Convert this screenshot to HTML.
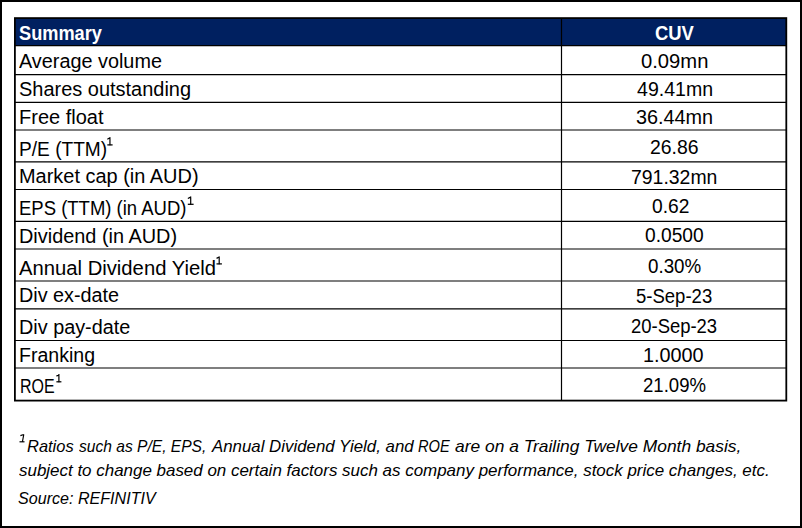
<!DOCTYPE html>
<html><head><meta charset="utf-8"><style>
html,body{margin:0;padding:0;background:#fff;width:802px;height:528px;overflow:hidden}
#w{position:relative;width:802px;height:528px}
#w span{position:absolute;white-space:pre;font-family:"Liberation Sans",sans-serif;transform-origin:0 0}
</style></head><body><div id="w">
<svg width="802" height="528" style="position:absolute;left:0;top:0">
<rect x="15" y="18.5" width="771" height="27" fill="#002060"/>
<line x1="14" x2="787" y1="45.6" y2="45.6" stroke="#000" stroke-width="1.15"/>
<line x1="14" x2="787" y1="74.6" y2="74.6" stroke="#000" stroke-width="1.15"/>
<line x1="14" x2="787" y1="102.4" y2="102.4" stroke="#000" stroke-width="1.15"/>
<line x1="14" x2="787" y1="130.0" y2="130.0" stroke="#000" stroke-width="1.15"/>
<line x1="14" x2="787" y1="161.8" y2="161.8" stroke="#000" stroke-width="1.15"/>
<line x1="14" x2="787" y1="189.5" y2="189.5" stroke="#000" stroke-width="1.15"/>
<line x1="14" x2="787" y1="221.4" y2="221.4" stroke="#000" stroke-width="1.15"/>
<line x1="14" x2="787" y1="249.0" y2="249.0" stroke="#000" stroke-width="1.15"/>
<line x1="14" x2="787" y1="281.0" y2="281.0" stroke="#000" stroke-width="1.15"/>
<line x1="14" x2="787" y1="308.8" y2="308.8" stroke="#000" stroke-width="1.15"/>
<line x1="14" x2="787" y1="340.5" y2="340.5" stroke="#000" stroke-width="1.15"/>
<line x1="14" x2="787" y1="368.0" y2="368.0" stroke="#000" stroke-width="1.15"/>
<line x1="561.5" x2="561.5" y1="18" y2="400.5" stroke="#000" stroke-width="1.2"/>
<rect x="14.9" y="18.1" width="771.4" height="382.5" fill="none" stroke="#000" stroke-width="1.8"/>
<rect x="1" y="1" width="800" height="526" fill="none" stroke="#000" stroke-width="2"/>
</svg>
<span style="left:18.80px;top:49.90px;font-size:20px;line-height:22.340px;font-weight:normal;font-style:normal;color:#000;transform:scaleX(0.9916)">Average volume</span>
<span style="left:640.99px;top:49.50px;font-size:20px;line-height:22.340px;font-weight:normal;font-style:normal;color:#000;transform:scaleX(1.0109)">0.09mn</span>
<span style="left:19.10px;top:78.30px;font-size:20px;line-height:22.340px;font-weight:normal;font-style:normal;color:#000;transform:scaleX(0.9982)">Shares outstanding</span>
<span style="left:636.70px;top:77.90px;font-size:20px;line-height:22.340px;font-weight:normal;font-style:normal;color:#000;transform:scaleX(0.9779)">49.41mn</span>
<span style="left:19.00px;top:106.10px;font-size:20px;line-height:22.340px;font-weight:normal;font-style:normal;color:#000;transform:scaleX(1.0000)">Free float</span>
<span style="left:635.71px;top:105.90px;font-size:20px;line-height:22.340px;font-weight:normal;font-style:normal;color:#000;transform:scaleX(0.9908)">36.44mn</span>
<span style="left:18.89px;top:137.70px;font-size:20px;line-height:22.340px;font-weight:normal;font-style:normal;color:#000;transform:scaleX(0.9562)">P/E (TTM)</span>
<span style="left:649.93px;top:135.70px;font-size:20px;line-height:22.340px;font-weight:normal;font-style:normal;color:#000;transform:scaleX(0.9708)">26.86</span>
<span style="left:18.81px;top:165.40px;font-size:20px;line-height:22.340px;font-weight:normal;font-style:normal;color:#000;transform:scaleX(0.9972)">Market cap (in AUD)</span>
<span style="left:631.33px;top:165.60px;font-size:20px;line-height:22.340px;font-weight:normal;font-style:normal;color:#000;transform:scaleX(0.9713)">791.32mn</span>
<span style="left:18.95px;top:197.30px;font-size:20px;line-height:22.340px;font-weight:normal;font-style:normal;color:#000;transform:scaleX(0.9247)">EPS (TTM) (in AUD)</span>
<span style="left:651.74px;top:194.70px;font-size:20px;line-height:22.340px;font-weight:normal;font-style:normal;color:#000;transform:scaleX(0.9595)">0.62</span>
<span style="left:18.81px;top:224.80px;font-size:20px;line-height:22.340px;font-weight:normal;font-style:normal;color:#000;transform:scaleX(0.9942)">Dividend (in AUD)</span>
<span style="left:644.74px;top:224.20px;font-size:20px;line-height:22.340px;font-weight:normal;font-style:normal;color:#000;transform:scaleX(0.9593)">0.0500</span>
<span style="left:18.80px;top:256.60px;font-size:20px;line-height:22.340px;font-weight:normal;font-style:normal;color:#000;transform:scaleX(1.0119)">Annual Dividend Yield</span>
<span style="left:647.56px;top:254.70px;font-size:20px;line-height:22.340px;font-weight:normal;font-style:normal;color:#000;transform:scaleX(0.9382)">0.30%</span>
<span style="left:19.02px;top:284.40px;font-size:20px;line-height:22.340px;font-weight:normal;font-style:normal;color:#000;transform:scaleX(0.9898)">Div ex-date</span>
<span style="left:635.87px;top:284.80px;font-size:20px;line-height:22.340px;font-weight:normal;font-style:normal;color:#000;transform:scaleX(0.9259)">5-Sep-23</span>
<span style="left:19.02px;top:316.20px;font-size:20px;line-height:22.340px;font-weight:normal;font-style:normal;color:#000;transform:scaleX(0.9909)">Div pay-date</span>
<span style="left:631.08px;top:314.50px;font-size:20px;line-height:22.340px;font-weight:normal;font-style:normal;color:#000;transform:scaleX(0.9217)">20-Sep-23</span>
<span style="left:19.05px;top:343.60px;font-size:20px;line-height:22.340px;font-weight:normal;font-style:normal;color:#000;transform:scaleX(0.9773)">Franking</span>
<span style="left:642.72px;top:343.80px;font-size:20px;line-height:22.340px;font-weight:normal;font-style:normal;color:#000;transform:scaleX(0.9914)">1.0000</span>
<span style="left:19.60px;top:374.70px;font-size:20px;line-height:22.340px;font-weight:normal;font-style:normal;color:#000;transform:scaleX(0.8000)">ROE</span>
<span style="left:642.57px;top:374.00px;font-size:20px;line-height:22.340px;font-weight:normal;font-style:normal;color:#000;transform:scaleX(0.9288)">21.09%</span>
<span style="left:19.09px;top:22.10px;font-size:20px;line-height:22.340px;font-weight:bold;font-style:normal;color:#fff;transform:scaleX(0.9100)">Summary</span>
<span style="left:655.18px;top:21.90px;font-size:20px;line-height:22.340px;font-weight:bold;font-style:normal;color:#fff;transform:scaleX(0.9195)">CUV</span>
<span style="left:27.13px;top:436.81px;font-size:17px;line-height:18.989px;font-weight:normal;font-style:italic;color:#000;transform:scaleX(0.9681)">Ratios</span>
<span style="left:79.20px;top:436.81px;font-size:17px;line-height:18.989px;font-weight:normal;font-style:italic;color:#000;transform:scaleX(0.9168)">such as P/E, EPS,</span>
<span style="left:211.59px;top:436.81px;font-size:17px;line-height:18.989px;font-weight:normal;font-style:italic;color:#000;transform:scaleX(0.9907)">Annual Dividend Yield, and</span>
<span style="left:418.14px;top:436.81px;font-size:17px;line-height:18.989px;font-weight:normal;font-style:italic;color:#000;transform:scaleX(0.8611)">ROE</span>
<span style="left:454.80px;top:436.81px;font-size:17px;line-height:18.989px;font-weight:normal;font-style:italic;color:#000;transform:scaleX(1.0227)">are on a Trailing Twelve Month basis,</span>
<span style="left:19.40px;top:460.81px;font-size:17px;line-height:18.989px;font-weight:normal;font-style:italic;color:#000;transform:scaleX(0.9967)">subject to change based on certain factors such as company performance, stock price changes, etc.</span>
<span style="left:18.15px;top:488.81px;font-size:17px;line-height:18.989px;font-weight:normal;font-style:italic;color:#000;transform:scaleX(0.9466)">Source: REFINITIV</span>
<svg width="802" height="528" style="position:absolute;left:0;top:0"><path d="M109.95 137.20V145.30M107.35 139.22L110.35 137.55" stroke="#000" stroke-width="1.2" fill="none"/><path d="M107.30 144.90H112.60" stroke="#000" stroke-width="1.25" fill="none"/><path d="M190.70 196.50V204.70M187.85 198.54L191.10 196.85" stroke="#000" stroke-width="1.2" fill="none"/><path d="M187.80 204.30H193.60" stroke="#000" stroke-width="1.25" fill="none"/><path d="M219.20 256.40V264.30M216.55 258.37L219.60 256.75" stroke="#000" stroke-width="1.2" fill="none"/><path d="M216.50 263.90H221.90" stroke="#000" stroke-width="1.25" fill="none"/><path d="M58.90 374.10V382.20M56.45 376.12L59.30 374.45" stroke="#000" stroke-width="1.2" fill="none"/><path d="M56.40 381.80H61.40" stroke="#000" stroke-width="1.25" fill="none"/><path d="M23.8 434.3L22.4 441.9M20.4 435.6L23.8 434.5" stroke="#000" stroke-width="1.15" fill="none"/><path d="M19.5 441.8H24.5" stroke="#000" stroke-width="1.2" fill="none"/></svg>
</div></body></html>
